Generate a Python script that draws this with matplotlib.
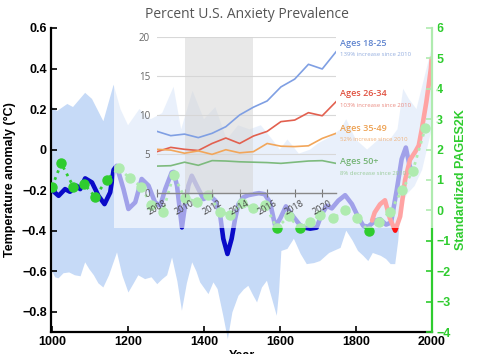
import matplotlib
matplotlib.use("Agg")
import matplotlib.pyplot as plt
import matplotlib.patches as mpatches
import numpy as np

# ── PAGES2K reconstruction ────────────────────────────────────────────────
band_up_years = [1000, 1013, 1040, 1055, 1087, 1105, 1135, 1162, 1180, 1200, 1230,
                 1260, 1290, 1320, 1340, 1370, 1400, 1430, 1460, 1490, 1520, 1550,
                 1580, 1600, 1620, 1650, 1680, 1700, 1730, 1760, 1775, 1800, 1830,
                 1860, 1890, 1910, 1925, 1940, 1960, 1980, 2000]
band_upper = [0.21, 0.19, 0.225, 0.21, 0.28, 0.25, 0.14, 0.32, 0.2, 0.12, 0.2,
              0.15, 0.18, 0.31, 0.1, 0.29, 0.15, 0.21, 0.05, 0.12, 0.1, 0.12,
              0.05, 0.0, 0.05, -0.02, 0.0, 0.03, 0.06, 0.1, 0.15, 0.05, 0.0,
              0.05, 0.05, 0.1, 0.3, 0.25, 0.2, 0.35, 0.5]

band_low_years = [1000, 1008, 1017, 1030, 1045, 1060, 1075, 1087, 1098, 1110, 1122,
                  1135, 1150, 1171, 1185, 1201, 1215, 1227, 1245, 1262, 1277, 1290,
                  1303, 1316, 1330, 1342, 1355, 1369, 1380, 1390, 1412, 1425, 1436,
                  1451, 1463, 1475, 1491, 1505, 1517, 1530, 1540, 1553, 1566, 1580,
                  1592, 1598, 1604, 1620, 1637, 1655, 1671, 1690, 1706, 1730, 1760,
                  1775, 1792, 1806, 1820, 1833, 1845, 1866, 1880, 1892, 1904, 1912,
                  1918, 1935, 1955, 1975, 2000]
band_lower = [-0.6, -0.63, -0.635, -0.61, -0.606, -0.62, -0.625, -0.556, -0.59, -0.62, -0.66,
              -0.68, -0.62, -0.507, -0.62, -0.705, -0.66, -0.62, -0.639, -0.63, -0.664, -0.64,
              -0.62, -0.532, -0.65, -0.795, -0.66, -0.556, -0.6, -0.655, -0.713, -0.655, -0.688,
              -0.82, -0.935, -0.803, -0.721, -0.69, -0.672, -0.72, -0.754, -0.68, -0.647, -0.74,
              -0.82, -0.7, -0.5, -0.49, -0.44, -0.515, -0.565, -0.56, -0.55, -0.51, -0.485,
              -0.40, -0.45, -0.5, -0.524, -0.55, -0.51, -0.524, -0.54, -0.565, -0.565, -0.45,
              -0.29, -0.22, -0.18, -0.1, 0.1]

temp_years = [1000, 1017, 1034, 1047, 1065, 1074, 1087, 1105, 1122, 1138, 1153, 1162,
              1170, 1188, 1201, 1219, 1236, 1254, 1271, 1285, 1298, 1315, 1320, 1329,
              1342, 1350, 1359, 1368, 1381, 1399, 1416, 1430, 1443, 1451, 1462, 1473,
              1482, 1491, 1504, 1517, 1530, 1545, 1560, 1574, 1588, 1601, 1616, 1635,
              1652, 1665, 1680, 1697, 1710, 1724, 1737, 1754, 1772, 1790, 1807, 1820,
              1833, 1851, 1864, 1880, 1893, 1908, 1921, 1932, 1942, 1952]
temp_anom = [-0.20, -0.228, -0.195, -0.208, -0.179, -0.195, -0.142, -0.162, -0.228, -0.269, -0.211, -0.10,
             -0.08, -0.195, -0.293, -0.26, -0.145, -0.178, -0.26, -0.277, -0.195, -0.113, -0.11, -0.178,
             -0.384, -0.277, -0.178, -0.129, -0.178, -0.244, -0.228, -0.252, -0.327, -0.44, -0.515, -0.44,
             -0.343, -0.269, -0.235, -0.225, -0.22, -0.215, -0.22, -0.26, -0.378, -0.34, -0.28, -0.33,
             -0.37, -0.385, -0.39, -0.385, -0.32, -0.277, -0.29, -0.252, -0.225, -0.269, -0.335, -0.376,
             -0.38, -0.351, -0.343, -0.37, -0.36, -0.2, -0.047, 0.01, -0.08, -0.12]

warm_years = [1843, 1850, 1864, 1877, 1890, 1904, 1917, 1930, 1943, 1957, 1966,
              1974, 1986, 1992, 1998, 2000]
warm_anom = [-0.35, -0.31, -0.27, -0.25, -0.34, -0.40, -0.33, -0.15, -0.05, -0.01, 0.02,
             0.10, 0.234, 0.315, 0.40, 0.45]

std_years = [1000, 1024, 1056, 1085, 1113, 1144, 1175, 1205, 1235, 1261, 1292, 1320,
             1350, 1381, 1412, 1443, 1469, 1500, 1530, 1561, 1592, 1623, 1652, 1680,
             1706, 1741, 1772, 1803, 1834, 1862, 1891, 1922, 1950, 1983]
std_values = [0.78, 1.55, 0.78, 0.86, 0.45, 1.0, 1.39, 1.06, 0.78, 0.18, -0.04, 1.17,
              0.4, 0.29, 0.51, -0.04, -0.15, 0.24, 0.07, 0.18, -0.58, -0.2, -0.58, -0.38,
              -0.15, -0.26, 0.02, -0.26, -0.67, -0.37, -0.04, 0.67, 1.28, 2.7]

left_ticks = [0.6, 0.4, 0.2, 0, -0.2, -0.4, -0.6, -0.8]
left_labels = ["0.6", "0.4", "0.2", "0", "\u22120.2", "\u22120.4", "\u22120.6", "\u22120.8"]
right_ticks = [6, 5, 4, 3, 2, 1, 0, -1, -2, -3, -4]
right_labels = ["6", "5", "4", "3", "2", "1", "0", "\u22121", "\u22122", "\u22123", "\u22124"]
year_ticks = [1000, 1200, 1400, 1600, 1800, 2000]

# ── Anxiety prevalence inset ───────────────────────────────────────────────
anx_years = list(range(2008, 2022))
anx_18_25 = [7.9, 7.35, 7.55, 7.1, 7.65, 8.5, 10.0, 11.0, 11.8, 13.6, 14.6, 16.5, 15.9, 18.1]
anx_26_34 = [5.3, 5.85, 5.6, 5.45, 6.35, 7.05, 6.35, 7.3, 7.9, 9.15, 9.35, 10.3, 9.9, 11.7]
anx_35_49 = [5.6, 5.5, 5.1, 5.4, 4.95, 5.55, 5.15, 5.3, 6.35, 6.0, 5.95, 6.05, 7.0, 7.65]
anx_50_up = [3.45, 3.5, 3.95, 3.55, 4.15, 4.1, 4.0, 3.95, 3.9, 3.8, 3.95, 4.1, 4.15, 3.8]
anx_ticks = [2008, 2010, 2012, 2014, 2016, 2018, 2020]
recession = (2010, 2015)

groups = ["Ages 18-25", "Ages 26-34", "Ages 35-49", "Ages 50+"]
group_notes = ["139% increase since 2010", "103% increase since 2010",
               "52% increase since 2010", "8% decrease since 2010"]

C_BAND = "#c6daf7"
C_BLUE = "#0a0ac8"
C_RED = "#ff1010"
C_GREEN = "#2fcc2f"
LINE_C = ["#7f9fe3", "#e2604f", "#f2a65a", "#7dba7d"]
TEXT_C = ["#5f84cf", "#e0503f", "#eda050", "#74b474"]
NOTE_C = ["#93addf", "#ea8a80", "#f1b27a", "#9acb9a"]

plt.rcParams["font.family"] = ["Liberation Sans", "DejaVu Sans"]

fig = plt.figure(figsize=(4.82, 3.54), dpi=100)
ax = fig.add_axes([0.1058, 0.0621, 0.7905, 0.8589])

# uncertainty band
ax.fill(np.concatenate([band_up_years, band_low_years[::-1]]),
        np.concatenate([band_upper, band_lower[::-1]]),
        color=C_BAND, lw=0, clip_on=False, zorder=1)
ax.plot(temp_years, temp_anom, color=C_BLUE, lw=3.3, solid_capstyle="round",
        solid_joinstyle="round", zorder=3)
ax.plot(warm_years, warm_anom, color=C_RED, lw=3.3, solid_capstyle="round",
        solid_joinstyle="round", zorder=4)

ax.set_xlim(997, 2001)
ax.set_ylim(-0.9, 0.6)
ax.set_yticks(left_ticks)
ax.set_yticklabels(left_labels)
ax.set_xticks(year_ticks)
ax.tick_params(direction="in", length=4, width=1.2, labelsize=9, pad=3)
for lab in ax.get_xticklabels() + ax.get_yticklabels():
    lab.set_fontweight("bold")
for side in ["top", "right"]:
    ax.spines[side].set_visible(False)
for side in ["left", "bottom"]:
    ax.spines[side].set_linewidth(1.6)
ax.set_ylabel("Temperature anomaly (\u00b0C)", fontsize=9, fontweight="bold", labelpad=4)
ax.set_xlabel("Year", fontsize=9, fontweight="bold", labelpad=1)
ax.patch.set_alpha(0)

ax2 = ax.twinx()
ax2.plot(std_years, std_values, color=C_GREEN, lw=2.0, ls=":", marker="o",
         ms=6.5, mec=C_GREEN, mfc=C_GREEN, zorder=5)
ax2.set_ylim(-4, 6)
ax2.set_yticks(right_ticks)
ax2.set_yticklabels(right_labels)
ax2.tick_params(direction="in", length=4, width=1.2, labelsize=9, pad=3,
                colors=C_GREEN)
for lab in ax2.get_yticklabels():
    lab.set_fontweight("bold")
for side in ["top", "left", "bottom"]:
    ax2.spines[side].set_visible(False)
ax2.spines["right"].set_color(C_GREEN)
ax2.spines["right"].set_linewidth(1.6)
ax2.set_ylabel("Standardized PAGES2K", fontsize=9, fontweight="bold",
               color=C_GREEN, labelpad=3)

# white veil behind the inset
veil = mpatches.Rectangle((114 / 482, 0.356), (438 - 114) / 482, 0.644,
                          transform=fig.transFigure, fc="white", ec="none",
                          alpha=0.62, zorder=1)
fig.patches.append(veil)

# ── inset ──────────────────────────────────────────────────────────────────
ax_in = fig.add_axes([0.3257, 0.4548, 0.3714, 0.4407], zorder=3)
ax_in.patch.set_alpha(0)
ax_in.axvspan(*recession, color="#d6d6d6", alpha=0.55, lw=0)
for series, col in zip([anx_18_25, anx_26_34, anx_35_49, anx_50_up], LINE_C):
    ax_in.plot(anx_years, series, color=col, lw=1.2)
ax_in.set_xlim(2008, 2021)
ax_in.set_ylim(0, 20)
ax_in.set_yticks([0, 5, 10, 15, 20])
ax_in.grid(axis="y", color="#d8d8d8", lw=0.8)
ax_in.set_axisbelow(True)
ax_in.set_xticks(anx_ticks)
ax_in.set_xticklabels([str(t) for t in anx_ticks], rotation=30, ha="center",
                      family="Open Sans")
ax_in.tick_params(axis="x", direction="inout", length=6, color="#777777",
                  labelsize=6.5, labelcolor="#444444", pad=1)
ax_in.tick_params(axis="y", length=0, labelsize=7, labelcolor="#666666", pad=5)
for lab in ax_in.get_yticklabels():
    lab.set_family("Open Sans")
for side in ["top", "right", "left"]:
    ax_in.spines[side].set_visible(False)
ax_in.spines["bottom"].set_color("#888888")
ax_in.spines["bottom"].set_linewidth(1.0)

fig.text(0.513, 0.96, "Percent U.S. Anxiety Prevalence", ha="center", va="center",
         fontsize=10, color="#555555", family="Open Sans", zorder=4)

label_y = [0.876, 0.737, 0.638, 0.545]
note_y = [0.845, 0.703, 0.607, 0.511]
for name, note, ly, ny, tc, nc in zip(groups, group_notes, label_y, note_y, TEXT_C, NOTE_C):
    fig.text(0.705, ly, name, fontsize=6.5, fontweight="semibold", color=tc,
             family="Open Sans", va="center", zorder=4)
    fig.text(0.705, ny, note, fontsize=4.3, color=nc, family="Open Sans",
             va="center", zorder=4)

fig.savefig("out.png", dpi=100)
